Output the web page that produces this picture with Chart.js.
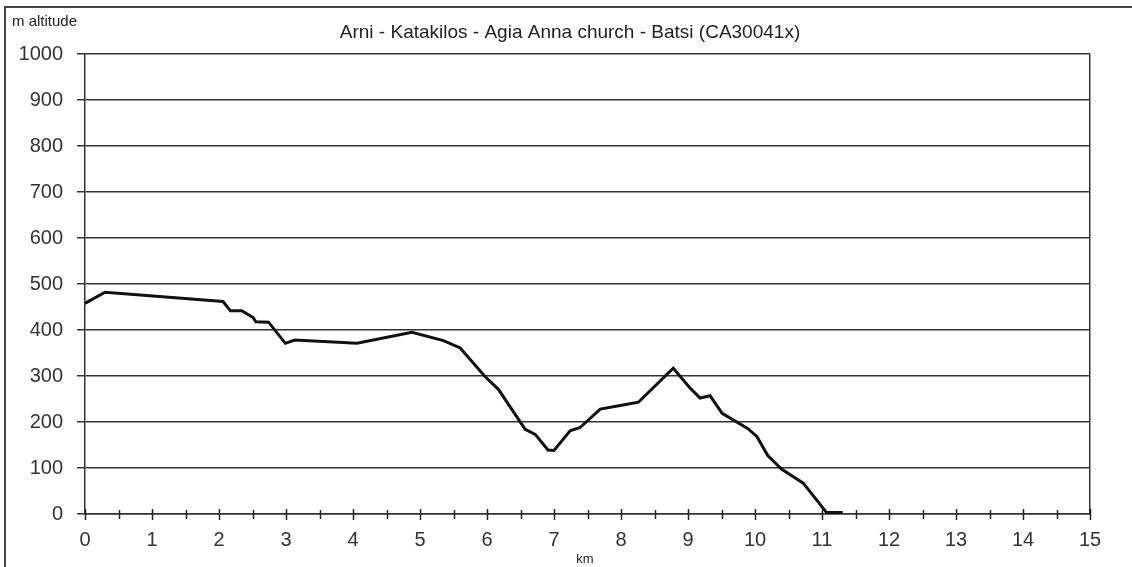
<!DOCTYPE html>
<html>
<head>
<meta charset="utf-8">
<script src="https://cdn.jsdelivr.net/npm/chart.js@4/dist/chart.umd.min.js"></script>
<style>
    body { margin: 0; background: #fff; }
    #wrap { position: relative; width: 1132px; height: 567px; }
    #frame {
        position: absolute; left: 4px; top: 6px; right: 0; bottom: 0;
        border-top: 2px solid #444; border-left: 2px solid #444;
    }
    canvas { position: absolute; left: 0; top: 0; }
</style>
</head>
<body>
<div id="wrap">
    <div id="frame"></div>
    <canvas id="profileChart" width="1132" height="567"></canvas>
</div>
<script>
// distance along the route (km) and altitude (m)
const distanceKm = [0, 0.3, 2.06, 2.17, 2.34, 2.51, 2.55, 2.74, 2.99, 3.13, 4.06, 4.88, 5.35, 5.6, 5.97, 6.17,
    6.57, 6.72, 6.91, 7.0, 7.24, 7.39, 7.69, 8.03, 8.26, 8.78, 9.03, 9.18, 9.33, 9.51, 9.89, 10.03,
    10.19, 10.4, 10.72, 11.07, 11.31];
const altitudeM = [458, 482, 462, 442, 442, 427, 418, 417, 371, 378, 371, 395, 377, 361, 299, 271,
    184, 173, 139, 138, 181, 188, 228, 237, 243, 317, 274, 252, 257, 219, 186, 168,
    127, 97, 67, 3, 3];
const xTickLabels = ['0', '1', '2', '3', '4', '5', '6', '7', '8', '9', '10', '11', '12', '13', '14', '15'];
const yTickLabels = ['0', '100', '200', '300', '400', '500', '600', '700', '800', '900', '1000'];

const chartTitle = 'Arni - Katakilos - Agia Anna church - Batsi (CA30041x)';
const yAxisTitle = 'm altitude';
const xAxisTitle = 'km';

// tick marks crossing the x axis (whole and half km) + the text around the plot
const extrasPlugin = {
    id: 'extras',
    afterDraw(chart) {
        const ctx = chart.ctx;
        const xs = chart.scales.x;
        const ys = chart.scales.y;
        const y0 = ys.getPixelForValue(0);
        ctx.save();
        ctx.strokeStyle = '#222';
        ctx.lineWidth = 1.5;
        for (let v = 0; v <= 15; v += 0.5) {
            const px = Math.round(xs.getPixelForValue(v)) + 0.5;
            const big = v % 1 === 0;
            ctx.beginPath();
            ctx.moveTo(px, y0 - (big ? 5 : 4));
            ctx.lineTo(px, y0 + (big ? 6 : 5));
            ctx.stroke();
        }
        ctx.fillStyle = '#222';
        ctx.textBaseline = 'middle';
        ctx.font = '15px "Liberation Sans", Arial, sans-serif';
        ctx.textAlign = 'left';
        ctx.fillText(yAxisTitle, 12, 22);
        ctx.font = '19px "Liberation Sans", Arial, sans-serif';
        ctx.textAlign = 'center';
        ctx.fillText(chartTitle, 570, 33);
        ctx.font = '13px "Liberation Sans", Arial, sans-serif';
        ctx.fillText(xAxisTitle, 585, 559);
        ctx.restore();
    }
};

document.addEventListener("DOMContentLoaded", function () {
    const ctx = document.getElementById('profileChart').getContext('2d');
    new Chart(ctx, {
        type: 'line',
        data: {
            datasets: [{
                data: distanceKm.map((d, i) => ({ x: d, y: altitudeM[i] })),
                borderColor: '#111',
                borderWidth: 3,
                pointRadius: 0,
                tension: 0,
                fill: false
            }]
        },
        options: {
            responsive: false,
            animation: false,
            layout: { padding: { top: 54, right: 42, left: 0, bottom: 0 } },
            plugins: {
                legend: { display: false },
                tooltip: { enabled: false }
            },
            scales: {
                x: {
                    type: 'linear',
                    min: 0,
                    max: 15,
                    afterFit: (s) => { s.height = 53; },
                    grid: {
                        drawTicks: false,
                        color: (c) => c.tick && c.tick.value === 15 ? '#333' : 'rgba(0,0,0,0)',
                        lineWidth: 1.5
                    },
                    border: { display: true, color: '#333', width: 1.5 },
                    ticks: {
                        stepSize: 1,
                        padding: 14,
                        color: '#333',
                        font: { family: '"Liberation Sans", Arial, sans-serif', size: 20 },
                        callback: (v) => xTickLabels[v]
                    }
                },
                y: {
                    min: 0,
                    max: 1000,
                    afterFit: (s) => { s.width = 85; },
                    grid: { color: '#333', lineWidth: 1.5, tickLength: 8 },
                    border: { display: true, color: '#333', width: 1.5 },
                    ticks: {
                        stepSize: 100,
                        padding: 14,
                        color: '#333',
                        font: { family: '"Liberation Sans", Arial, sans-serif', size: 20 },
                        callback: (v) => yTickLabels[v / 100]
                    }
                }
            }
        },
        plugins: [extrasPlugin]
    });
});
</script>
</body>
</html>
